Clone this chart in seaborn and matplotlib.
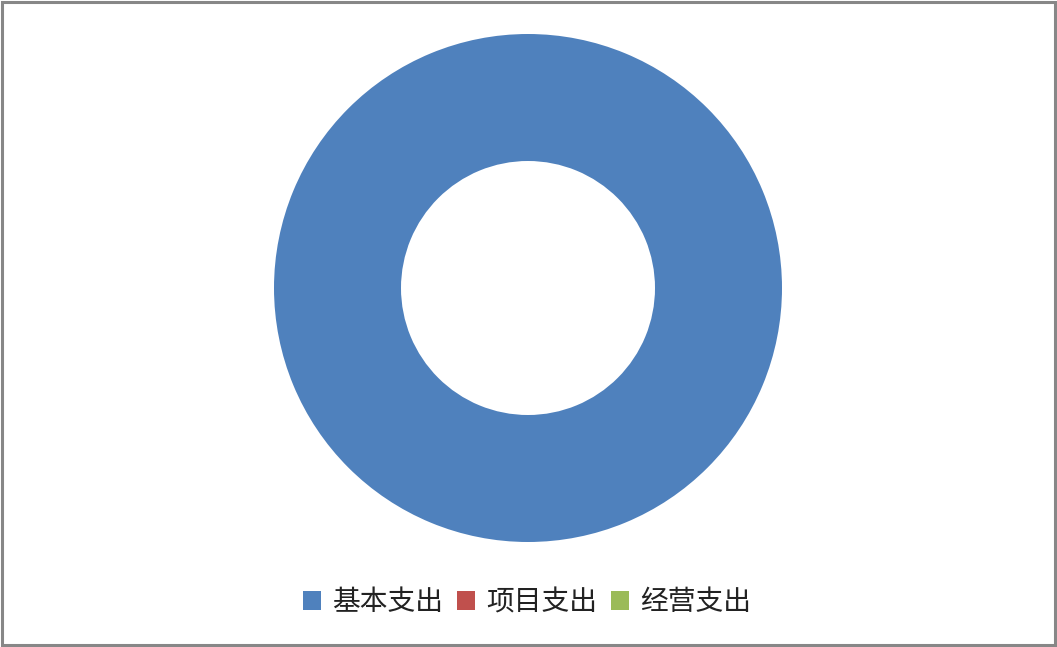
import matplotlib
matplotlib.use("Agg")
import matplotlib.pyplot as plt
from matplotlib.patches import Rectangle, Patch
import seaborn as sns

# Expenditure breakdown
categories = ["基本支出", "项目支出", "经营支出"]
values = [100.0, 0.0, 0.0]
colors = ["#4F81BD", "#C0504D", "#9BBB59"]

sns.set_theme(style="white")
plt.rcParams["font.family"] = ["Noto Sans CJK SC", "DejaVu Sans"]

W, H = 1057, 647
fig = plt.figure(figsize=(W / 100, H / 100), dpi=100)
fig.patch.set_facecolor("white")

# Donut axes: centre (528, 288) px, outer radius 254 px
cx, cy, r = 528, 288, 254
ax = fig.add_axes([(cx - r) / W, (H - cy - r) / H, 2 * r / W, 2 * r / H])
wedges, _ = ax.pie(values, colors=colors, startangle=90, counterclock=False,
                   radius=1.0, wedgeprops=dict(width=0.5, linewidth=0))
ax.set_xlim(-1, 1)
ax.set_ylim(-1, 1)
ax.set_aspect("equal")
ax.axis("off")

handles = [Patch(facecolor=c, edgecolor="none") for c in colors]
fig.legend(handles, categories, loc="center", bbox_to_anchor=(527 / W, 1 - 602 / H),
           ncol=3, frameon=False, fontsize=20, handlelength=0.65, handleheight=0.65,
           handletextpad=0.4, columnspacing=0.5, labelcolor="#222222")

# Outer frame
fig.add_artist(Rectangle((2 / W, 2 / H), (W - 4) / W, (H - 4) / H,
                         transform=fig.transFigure, fill=False,
                         edgecolor="#878787", linewidth=2.2))

fig.savefig("out.png", dpi=100, facecolor="white")
